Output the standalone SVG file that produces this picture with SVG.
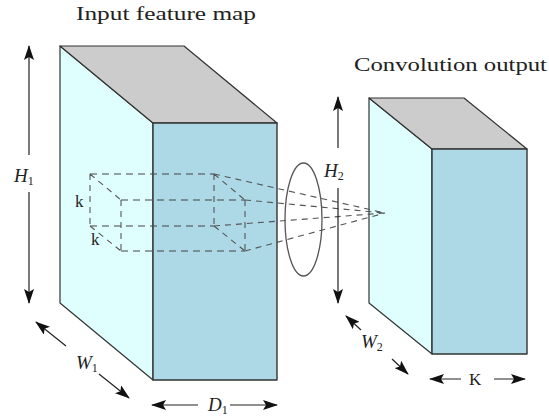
<svg xmlns="http://www.w3.org/2000/svg" width="549" height="419" viewBox="0 0 549 419">
<style>
.l{fill:#dfffff;stroke:#333;stroke-width:1.2;stroke-linejoin:round}
.f{fill:#add8e6;stroke:#333;stroke-width:1.4;stroke-linejoin:round}
.t{fill:#cccccc;stroke:#333;stroke-width:1.2;stroke-linejoin:round}
.c{fill:none;stroke:#222;stroke-width:1.2}
.d{fill:none;stroke:#444;stroke-width:1.2;stroke-dasharray:7 5}
.d2{fill:none;stroke:#555;stroke-width:1.1;stroke-dasharray:6 5}
text{font-family:"Liberation Serif","DejaVu Serif",serif;fill:#222}
.i{font-style:italic;font-size:19px}
.s{font-size:12px}
.h{font-size:19px}
.k{font-size:17px}
</style>
<defs>
<marker id="a" markerWidth="16" markerHeight="10" refX="14" refY="5" orient="auto-start-reverse" markerUnits="userSpaceOnUse"><path d="M0 0L15 5L0 10L3 5Z" fill="#111"/></marker>
</defs>
<g id="input-block">
<polygon class="l" points="60,46 153,123 153,380 60,303"/>
<polygon class="t" points="60,46 184,46 277,123 153,123"/>
<rect class="f" x="153" y="123" width="124" height="257"/>
</g>
<g id="output-block">
<polygon class="l" points="369,98 432,149 432,354 369,303"/>
<polygon class="t" points="369,98 464,98 527,149 432,149"/>
<rect class="f" x="432" y="149" width="95" height="205"/>
</g>
<g id="receptive-field">
<path class="d" d="M90 174H214M121 200H245M90 226H214M121 251H245"/>
<path class="d2" d="M90 174V226M121 200V251M90 174L121 200M90 226L121 251M214 174V226M245 200V251M214 174L245 200M214 226L245 251"/>
<path class="d2" d="M214 174L385 213M245 200L385 213M214 226L385 213M245 251L385 213"/>
</g>
<g id="lens">
<ellipse cx="303.500" cy="219.500" rx="18.500" ry="56.500" fill="none" stroke="#555" stroke-width="1.3"/>
</g>
<g id="connectors">
<path class="c" marker-start="url(#a)" marker-end="url(#a)" d="M29 46V155M29 192V303"/>
<path class="c" marker-start="url(#a)" marker-end="url(#a)" d="M36 322L66 346M99 374L129 398"/>
<path class="c" marker-start="url(#a)" marker-end="url(#a)" d="M152 405H198M230 405H277"/>
<path class="c" marker-start="url(#a)" marker-end="url(#a)" d="M338 97V148M338 188V303"/>
<path class="c" marker-start="url(#a)" marker-end="url(#a)" d="M346 316L361 330M392 359L408 374"/>
<path class="c" marker-start="url(#a)" marker-end="url(#a)" d="M430 379H461M494 379H525"/>
</g>
<g id="labels">
<text class="h" x="76" y="20" textLength="180" lengthAdjust="spacingAndGlyphs">Input feature map</text>
<text class="h" x="354" y="71" textLength="193" lengthAdjust="spacingAndGlyphs">Convolution output</text>
<text class="i" x="14" y="182">H<tspan class="s" font-style="normal" dy="3">1</tspan></text>
<text class="i" x="324" y="177">H<tspan class="s" font-style="normal" dy="3">2</tspan></text>
<text class="i" x="76" y="369">W<tspan class="s" font-style="normal" dy="3">1</tspan></text>
<text class="i" x="361" y="348">W<tspan class="s" font-style="normal" dy="3">2</tspan></text>
<text class="i" x="208" y="411">D<tspan class="s" font-style="normal" dy="3">1</tspan></text>
<text class="k" x="75" y="207">k</text>
<text class="k" x="91" y="245">k</text>
<text class="k" x="469" y="385">K</text>
</g>
</svg>
